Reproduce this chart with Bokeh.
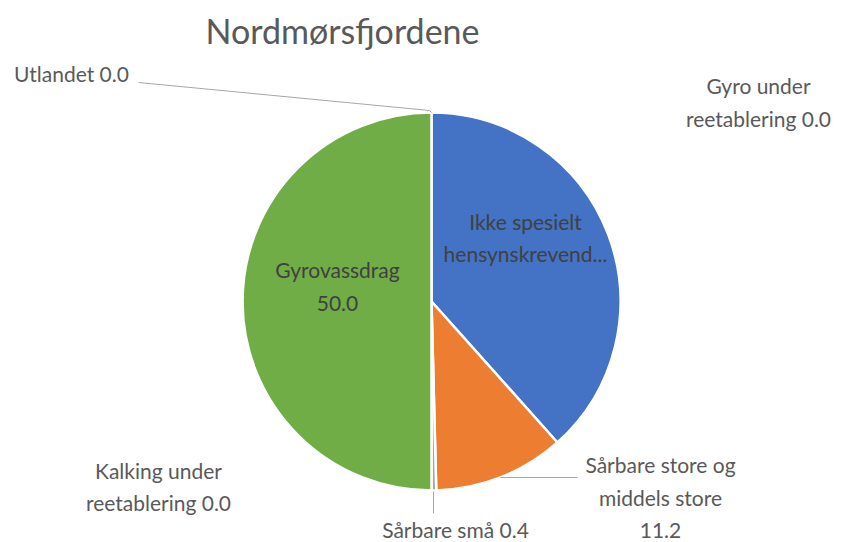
import math
from bokeh.plotting import figure
from bokeh.models import Range1d, ColumnDataSource
from bokeh.core.properties import value
from bokeh.embed import file_html
from bokeh.resources import INLINE

# ---- data (clockwise from 12 o'clock) ----
categories = [
    "Gyro under reetablering",
    "Ikke spesielt hensynskrevende",
    "Sårbare store og middels store",
    "Sårbare små",
    "Kalking under reetablering",
    "Gyrovassdrag",
    "Utlandet",
]
values = [0.0, 38.4, 11.2, 0.4, 0.0, 50.0, 0.0]
label_text = [
    "Gyro under\nreetablering 0.0",
    "Ikke spesielt\nhensynskrevend...",
    "Sårbare store og\nmiddels store\n11.2",
    "Sårbare små 0.4",
    "Kalking under\nreetablering 0.0",
    "Gyrovassdrag\n50.0",
    "Utlandet 0.0",
]
title_text = "Nordmørsfjordene"

# ---- styling / layout ----
colors = ["#5B9BD5", "#4472C4", "#ED7D31", "#A5A5A5", "#FFC000", "#70AD47", "#264478"]
W, H = 843, 542
def Y(py):
    return H - py

cx, cy, R = 431, Y(301), 189
# label anchor positions (screen px)
label_pos = [(758, 101.5), (525, 237), (660, 496.5), (455, 529), (158, 486), (337, 285.5), (71, 73)]
label_color = ["#595959", "#404040", "#595959", "#595959", "#595959", "#404040", "#595959"]
FONT = "Lato"

p = figure(width=W, height=H, x_range=Range1d(0, W), y_range=Range1d(0, H),
           output_backend="svg", toolbar_location=None, min_border=0)
p.axis.visible = False
p.grid.visible = False
p.outline_line_color = None
p.background_fill_color = "white"

total = sum(values)
cum = 0.0
ws = dict(start=[], end=[], color=[])
for v, c in zip(values, colors):
    a0 = math.pi / 2 - 2 * math.pi * cum / total
    cum += v
    a1 = math.pi / 2 - 2 * math.pi * cum / total
    if v > 0:
        ws["start"].append(a0)
        ws["end"].append(a1)
        ws["color"].append(c)
src = ColumnDataSource(ws)
p.wedge(x=cx, y=cy, radius=R, start_angle="start", end_angle="end", direction="clock",
        fill_color="color", line_color="white", line_width=2.5, source=src)

# leader lines
leaders = [
    ([138, 429, 431], [82, 110, 112]),
    ([500, 577], [477, 477]),
    ([433, 433], [491, 513]),
]
for xs, ys in leaders:
    p.line(xs, [Y(v) for v in ys], line_color="#A6A6A6", line_width=1)

lsrc = ColumnDataSource(dict(
    x=[lp[0] for lp in label_pos],
    y=[Y(lp[1]) for lp in label_pos],
    t=label_text,
    c=label_color,
))
p.text(x="x", y="y", text="t", text_color="c", source=lsrc, text_align="center",
       text_baseline="middle", text_font=value(FONT), text_font_size="21px",
       text_line_height=1.3)

p.text(x=[342], y=[Y(30)], text=[title_text], text_align="center", text_baseline="middle",
       text_font=value(FONT), text_font_size="34px", text_color="#595959")

open("out.html", "w").write(file_html(p, INLINE))
